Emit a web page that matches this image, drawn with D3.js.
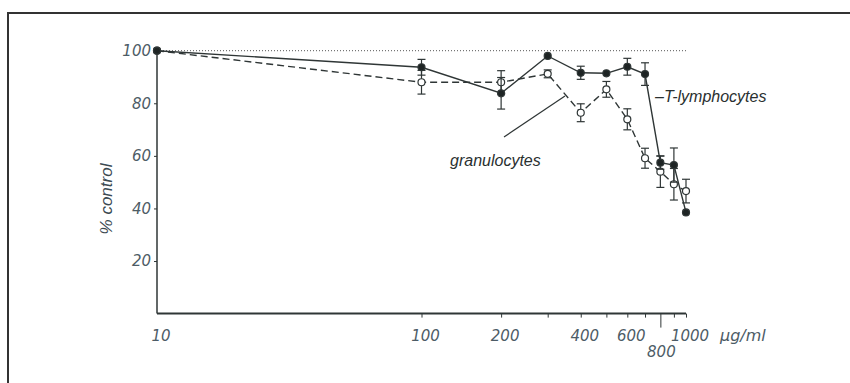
<!DOCTYPE html>
<html>
<head>
<meta charset="utf-8">
<script src="https://cdn.jsdelivr.net/npm/d3@7"></script>
<style>
  body { margin: 0; background: #fff; }
  svg { display: block; }
</style>
</head>
<body>
<div id="chart"></div>
<script>
// doses (µg/ml) and % control values
const doses = [10, 100, 200, 300, 400, 500, 600, 700, 800, 900, 1000];
const tLymph = [100, 93.7, 83.8, 98, 91.6, 91.4, 93.9, 91.1, 57.4, 56.5, 38.5];
const tLymphErr = [0, 3, 6, 0, 2.5, 0, 3.2, 4.3, 2.5, 6.5, 0];
const granulo = [100, 88, 88, 91.2, 76.4, 85.3, 73.9, 59.1, 54, 49.2, 46.6];
const granuloErr = [0, 4.5, 4.4, 1.5, 3.4, 3, 4, 3.8, 6, 6, 4.5];

const yTicks = [20, 40, 60, 80, 100];
const xTicks = [100, 200, 300, 400, 500, 600, 700, 800, 900, 1000];
const xLabels = [10, 100, 200, 400, 600, 1000];

const width = 850, height = 383;
const ink = "#2f3636";
const tickInk = "#4d5c66";

const svg = d3.select("#chart").append("svg")
    .attr("width", width)
    .attr("height", height);

// frame of the scanned figure
svg.append("path")
    .attr("d", "M8,383 L8,13 L850,13")
    .attr("fill", "none")
    .attr("stroke", "#333")
    .attr("stroke-width", 2);

const x = d3.scaleLog().domain([10, 1000]).range([157, 686]);
const y = d3.scaleLinear().domain([0, 100]).range([313.6, 50.7]);

// reference line at 100 %
svg.append("line")
    .attr("x1", x(10)).attr("x2", x(1000))
    .attr("y1", y(100)).attr("y2", y(100))
    .attr("stroke", "#555")
    .attr("stroke-width", 1)
    .attr("stroke-dasharray", "1,2");

// y axis
const yAxis = svg.append("g")
    .attr("transform", `translate(${x(10)},0)`)
    .call(d3.axisLeft(y).tickValues(yTicks).tickSize(3).tickPadding(3).tickFormat(d3.format("d")));
yAxis.select(".domain").attr("d", `M0,${y(100)}V${y(0)}`).attr("stroke", ink).attr("stroke-width", 1.5);
yAxis.selectAll(".tick line").attr("stroke", ink);
yAxis.selectAll(".tick text")
    .attr("fill", tickInk)
    .style("font", "italic 15px 'DejaVu Sans'");

// x axis
const xAxis = svg.append("g")
    .attr("transform", `translate(0,${y(0)})`)
    .call(d3.axisBottom(x).tickValues(xTicks).tickSize(4).tickFormat(""));
xAxis.select(".domain").attr("d", `M${x(10)},0H${x(1000)}`).attr("stroke", ink).attr("stroke-width", 2);
xAxis.selectAll(".tick line")
    .attr("stroke", ink)
    .attr("y2", d => d === 800 ? 14 : 4);

svg.append("g").selectAll("text")
    .data(xLabels)
    .join("text")
    .attr("x", d => x(d) + 4)
    .attr("y", y(0) + 27)
    .attr("text-anchor", "middle")
    .attr("fill", tickInk)
    .style("font", "italic 15px 'DejaVu Sans'")
    .text(d => d);

svg.append("text")
    .attr("x", x(800) + 1)
    .attr("y", y(0) + 43)
    .attr("text-anchor", "middle")
    .attr("fill", tickInk)
    .style("font", "italic 15px 'DejaVu Sans'")
    .text("800");

svg.append("text")
    .attr("x", 720)
    .attr("y", y(0) + 27)
    .attr("fill", tickInk)
    .style("font", "italic 16px 'DejaVu Sans'")
    .text("µg/ml");

// y title
svg.append("text")
    .attr("transform", "translate(112,199) rotate(-90)")
    .attr("text-anchor", "middle")
    .attr("fill", "#3c4a52")
    .style("font", "italic 17px 'Liberation Sans'")
    .text("% control");

// series
function drawSeries(vals, errs, dashed, filled) {
    const g = svg.append("g");
    const pts = doses.map((d, i) => ({ d: d, v: vals[i], e: errs[i] }));

    g.append("path")
        .datum(pts)
        .attr("fill", "none")
        .attr("stroke", ink)
        .attr("stroke-width", 1.4)
        .attr("stroke-dasharray", dashed ? "7,4" : null)
        .attr("d", d3.line().x(p => x(p.d)).y(p => y(p.v)));

    const bars = g.selectAll(".err")
        .data(pts.filter(p => p.e > 0))
        .join("g")
        .attr("stroke", ink)
        .attr("stroke-width", 1.2);
    bars.append("line")
        .attr("x1", p => x(p.d)).attr("x2", p => x(p.d))
        .attr("y1", p => y(p.v - p.e)).attr("y2", p => y(p.v + p.e));
    bars.append("line")
        .attr("x1", p => x(p.d) - 4).attr("x2", p => x(p.d) + 4)
        .attr("y1", p => y(p.v + p.e)).attr("y2", p => y(p.v + p.e));
    bars.append("line")
        .attr("x1", p => x(p.d) - 4).attr("x2", p => x(p.d) + 4)
        .attr("y1", p => y(p.v - p.e)).attr("y2", p => y(p.v - p.e));

    g.selectAll("circle")
        .data(pts)
        .join("circle")
        .attr("cx", p => x(p.d))
        .attr("cy", p => y(p.v))
        .attr("r", 3.5)
        .attr("fill", filled ? "#1e2424" : "#fff")
        .attr("stroke", ink)
        .attr("stroke-width", 1.2);
}

drawSeries(granulo, granuloErr, true, false);
drawSeries(tLymph, tLymphErr, false, true);

// labels
svg.append("text")
    .attr("x", 655)
    .attr("y", 102)
    .attr("fill", "#2a3030")
    .style("font", "italic 16px 'Liberation Sans'")
    .text("–T-lymphocytes");

svg.append("line")
    .attr("x1", 504).attr("y1", 137)
    .attr("x2", 565).attr("y2", 96)
    .attr("stroke", ink)
    .attr("stroke-width", 1.2);

svg.append("text")
    .attr("x", 450)
    .attr("y", 166)
    .attr("fill", "#2a3030")
    .style("font", "italic 16px 'Liberation Sans'")
    .text("granulocytes");
</script>
</body>
</html>
